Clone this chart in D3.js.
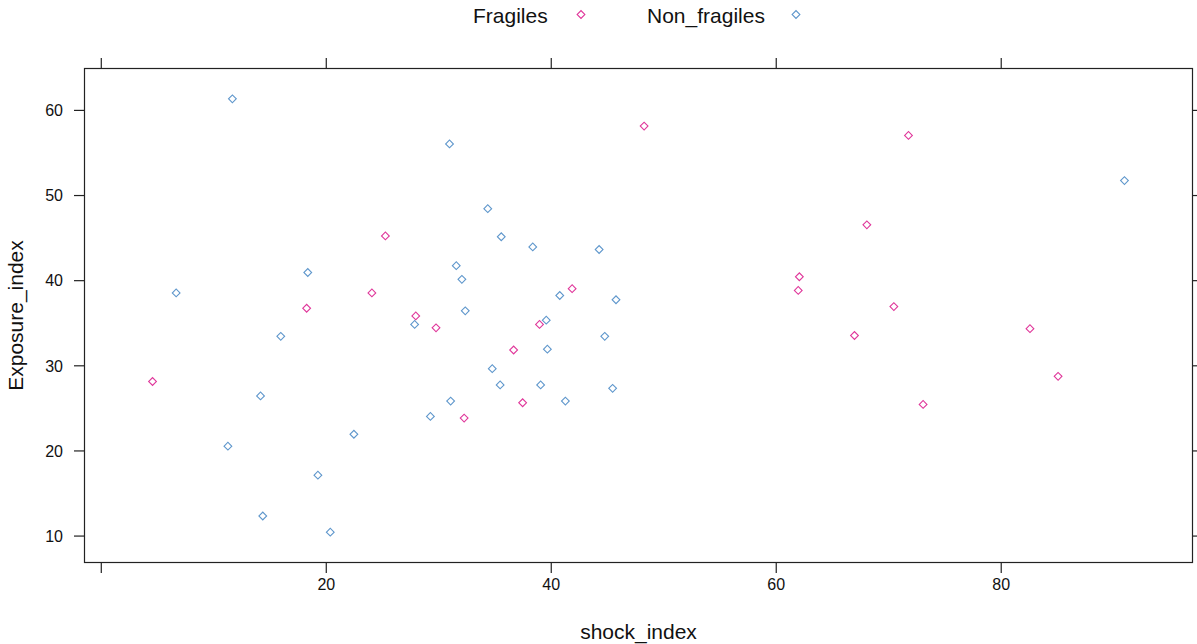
<!DOCTYPE html>
<html>
<head>
<meta charset="utf-8">
<script src="https://cdn.jsdelivr.net/npm/d3@7"></script>
<style>
  html, body { margin: 0; padding: 0; background: #fff; }
  svg { display: block; font-family: "Liberation Sans", Arial, sans-serif; }
</style>
</head>
<body>
<svg id="chart" width="1197" height="644"></svg>
<script>
// ---- data ----
const seriesNames = ["Fragiles", "Non_fragiles"];
const fragilesShock = [4.6, 18.3, 24.1, 25.3, 28.0, 29.8, 32.3, 36.7, 37.5, 39.0, 41.9, 48.3,
  62.0, 62.1, 67.0, 68.1, 70.5, 71.8, 73.1, 82.6, 85.1];
const fragilesExposure = [28.1, 36.7, 38.5, 45.2, 35.8, 34.4, 23.8, 31.8, 25.6, 34.8, 39.0, 58.1,
  38.8, 40.4, 33.5, 46.5, 36.9, 57.0, 25.4, 34.3, 28.7];
const nonFragilesShock = [6.7, 11.7, 11.3, 14.2, 14.4, 16.0, 18.4, 19.3, 20.4, 22.5, 27.9, 29.3,
  31.0, 31.1, 31.6, 32.1, 32.4, 34.4, 34.8, 35.5, 35.6, 38.4, 39.1, 39.6, 39.7, 40.8, 41.3,
  44.3, 44.8, 45.5, 45.8, 91.0];
const nonFragilesExposure = [38.5, 61.3, 20.5, 26.4, 12.3, 33.4, 40.9, 17.1, 10.4, 21.9, 34.8, 24.0,
  56.0, 25.8, 41.7, 40.1, 36.4, 48.4, 29.6, 27.7, 45.1, 43.9, 27.7, 35.3, 31.9, 38.2, 25.8,
  43.6, 33.4, 27.3, 37.7, 51.7];
const xTicks = [0, 20, 40, 60, 80];
const xTickLabels = ["", "20", "40", "60", "80"];
const yTicks = [10, 20, 30, 40, 50, 60];
const yTickLabels = ["10", "20", "30", "40", "50", "60"];
const xLabel = "shock_index";
const yLabel = "Exposure_index";
const colors = ["#e0389b", "#5f97cc"];

// ---- layout ----
const svg = d3.select("#chart");
const L = 84.5, R = 1192.5, T = 68.5, B = 562.5;

const allX = fragilesShock.concat(nonFragilesShock);
const allY = fragilesExposure.concat(nonFragilesExposure);
function padded(arr) {
  const [a, b] = d3.extent(arr); const p = (b - a) * 0.07; return [a - p, b + p];
}
const x = d3.scaleLinear().domain(padded(allX)).range([L, R]);
const y = d3.scaleLinear().domain(padded(allY)).range([B, T]);

const data = [
  fragilesShock.map((v, i) => ({ x: v, y: fragilesExposure[i], g: 0 })),
  nonFragilesShock.map((v, i) => ({ x: v, y: nonFragilesExposure[i], g: 1 }))
].flat();

const tickLen = 10.5;
const stroke = "#222";

// axes via d3
const fmtX = (d, i) => xTickLabels[xTicks.indexOf(d)];
const fmtY = (d) => yTickLabels[yTicks.indexOf(d)];

const gB = svg.append("g").attr("transform", `translate(0,${B})`)
  .call(d3.axisBottom(x).tickValues(xTicks).tickFormat(fmtX).tickSize(tickLen).tickSizeOuter(0).tickPadding(5));
const gT = svg.append("g").attr("transform", `translate(0,${T})`)
  .call(d3.axisTop(x).tickValues(xTicks).tickFormat("").tickSize(tickLen).tickSizeOuter(0));
const gL = svg.append("g").attr("transform", `translate(${L},0)`)
  .call(d3.axisLeft(y).tickValues(yTicks).tickFormat(fmtY).tickSize(tickLen).tickSizeOuter(0).tickPadding(11));
const gR = svg.append("g").attr("transform", `translate(${R},0)`)
  .call(d3.axisRight(y).tickValues(yTicks).tickFormat("").tickSize(tickLen).tickSizeOuter(0));

[gB, gT, gL, gR].forEach(g => {
  g.select(".domain").remove();
  g.selectAll(".tick line").attr("stroke", stroke).attr("stroke-width", 1.2);
  g.selectAll(".tick text").attr("fill", "#111").style("font-size", "16px")
    .style("font-family", '"Liberation Sans", Arial, sans-serif');
});
gB.selectAll(".tick text").attr("dy", "0.71em").attr("y", tickLen + 5.5);
gL.selectAll(".tick text").attr("dy", "0.36em").attr("dx", "0");

// panel border
svg.append("rect").attr("x", L).attr("y", T).attr("width", R - L).attr("height", B - T)
  .attr("fill", "none").attr("stroke", stroke).attr("stroke-width", 1.2);

// points
const diamond = d3.symbol().type(d3.symbolSquare).size(30);
svg.append("g").selectAll("path").data(data).join("path")
  .attr("d", diamond)
  .attr("transform", d => `translate(${x(d.x)},${y(d.y)}) rotate(45)`)
  .attr("fill", "none")
  .attr("stroke", d => colors[d.g])
  .attr("stroke-width", 1.1);

// axis labels
svg.append("text").attr("x", (L + R) / 2 + 0).attr("y", 639)
  .attr("text-anchor", "middle").style("font-size", "21px").attr("fill", "#111").text(xLabel);
svg.append("text").attr("transform", `translate(23,${(T + B) / 2}) rotate(-90)`)
  .attr("text-anchor", "middle").style("font-size", "21px").attr("fill", "#111").text(yLabel);

// legend
const legendX = [473, 647];
const legendPt = [581, 796];
const lg = svg.append("g");
seriesNames.forEach((name, i) => {
  lg.append("text").attr("x", legendX[i]).attr("y", 23).style("font-size", "21px")
    .attr("fill", "#111").text(name);
  lg.append("path").attr("d", diamond)
    .attr("transform", `translate(${legendPt[i]},14.5) rotate(45)`)
    .attr("fill", "none").attr("stroke", colors[i]).attr("stroke-width", 1.1);
});
</script>
</body>
</html>
